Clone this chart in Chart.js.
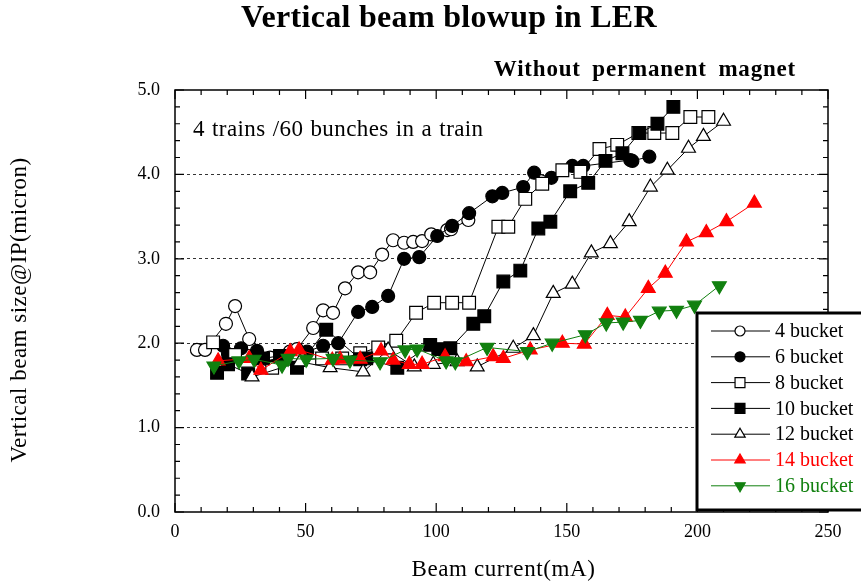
<!DOCTYPE html>
<html>
<head>
<meta charset="utf-8">
<title>Vertical beam blowup in LER</title>
<script src="https://cdn.jsdelivr.net/npm/chart.js@4.4.1/dist/chart.umd.min.js"></script>
<style>
    html, body { margin: 0; padding: 0; background: #fff; }
    #wrap { width: 861px; height: 584px; }
</style>
</head>
<body>
<div id="wrap"><canvas id="chart"></canvas></div>
<script>
// Series: beam current (mA) and vertical beam size (micron)
const seriesNames = ['4 bucket', '6 bucket', '8 bucket', '10 bucket', '12 bucket', '14 bucket', '16 bucket'];

const current4 = [8.4, 11.5, 19.5, 23.0, 28.4, 36.4, 44.0, 46.7, 52.9, 56.7, 60.5, 65.1, 70.1, 74.7, 79.3, 83.5, 87.7, 91.2, 94.6, 98.1, 104.2, 105.7, 112.3];
const size4 = [1.92, 1.92, 2.23, 2.44, 2.05, 1.83, 1.90, 1.93, 2.18, 2.39, 2.36, 2.65, 2.84, 2.84, 3.05, 3.22, 3.19, 3.20, 3.21, 3.29, 3.34, 3.35, 3.46];

const current6 = [18.4, 20.3, 25.3, 31.4, 37.5, 50.6, 56.7, 62.5, 70.1, 75.5, 81.6, 87.7, 93.5, 100.4, 106.1, 112.6, 121.5, 125.3, 133.3, 137.5, 144.1, 152.1, 156.3, 174.3, 175.1, 181.6];
const size6 = [1.97, 1.87, 1.94, 1.91, 1.73, 1.90, 1.97, 2.00, 2.37, 2.43, 2.56, 3.00, 3.02, 3.27, 3.39, 3.54, 3.74, 3.78, 3.85, 4.02, 3.96, 4.10, 4.10, 4.17, 4.16, 4.21];

const current8 = [14.6, 23.0, 37.2, 47.1, 56.3, 64.0, 70.9, 77.8, 84.7, 92.3, 99.2, 106.1, 112.6, 123.8, 127.6, 134.1, 140.6, 148.3, 155.2, 162.5, 169.3, 177.4, 183.5, 190.4, 197.3, 204.2];
const size8 = [2.01, 1.86, 1.71, 1.80, 1.82, 1.82, 1.88, 1.95, 2.03, 2.36, 2.48, 2.48, 2.48, 3.38, 3.38, 3.71, 3.89, 4.05, 4.03, 4.30, 4.35, 4.49, 4.49, 4.49, 4.68, 4.68];

const current10 = [16.1, 20.3, 28.0, 33.7, 40.2, 46.7, 57.9, 70.9, 73.2, 85.1, 97.7, 100.8, 105.4, 114.2, 118.4, 125.7, 132.2, 139.1, 143.7, 151.3, 158.2, 164.8, 171.3, 177.8, 184.7, 190.8];
const size10 = [1.65, 1.75, 1.64, 1.82, 1.85, 1.71, 2.16, 1.81, 1.82, 1.71, 1.98, 1.93, 1.94, 2.23, 2.32, 2.73, 2.86, 3.36, 3.44, 3.80, 3.90, 4.16, 4.25, 4.49, 4.60, 4.80];

const current12 = [29.5, 47.9, 59.4, 72.0, 81.6, 91.6, 98.9, 108.0, 115.7, 129.5, 137.2, 144.8, 152.1, 159.4, 166.7, 173.9, 182.0, 188.5, 196.6, 202.3, 210.0];
const size12 = [1.60, 1.78, 1.71, 1.66, 1.92, 1.72, 1.75, 1.78, 1.72, 1.94, 2.09, 2.59, 2.70, 3.07, 3.18, 3.44, 3.85, 4.05, 4.31, 4.45, 4.63];

const current14 = [16.5, 28.4, 32.9, 44.1, 47.5, 60.2, 63.2, 70.9, 78.9, 83.5, 89.7, 94.6, 103.4, 111.5, 121.8, 125.7, 136.0, 148.3, 156.7, 165.5, 172.4, 181.2, 187.7, 195.8, 203.4, 211.1, 221.8];
const size14 = [1.79, 1.82, 1.68, 1.90, 1.92, 1.80, 1.81, 1.81, 1.91, 1.80, 1.75, 1.75, 1.84, 1.78, 1.84, 1.82, 1.92, 2.00, 1.99, 2.33, 2.31, 2.65, 2.83, 3.20, 3.31, 3.44, 3.66];

const current16 = [14.9, 24.5, 30.3, 41.0, 43.3, 50.2, 60.5, 67.0, 78.5, 88.1, 92.7, 103.8, 107.3, 119.5, 134.9, 144.4, 157.1, 165.1, 171.6, 178.2, 185.4, 192.0, 198.9, 208.4];
const size16 = [1.73, 1.79, 1.81, 1.74, 1.82, 1.81, 1.82, 1.80, 1.78, 1.92, 1.93, 1.79, 1.78, 1.95, 1.90, 2.00, 2.10, 2.24, 2.25, 2.27, 2.38, 2.39, 2.45, 2.68];

const xTicks = [0, 50, 100, 150, 200, 250];
const yTicks = [0, 1, 2, 3, 4, 5];

const SERIF = '"Liberation Serif", "DejaVu Serif", serif';
const RED = '#ff0000';
const GREEN = '#11800f';

function zip(xs, ys) {
    return xs.map((v, i) => ({ x: v, y: ys[i] }));
}

// marker look per series
const looks = [
    { color: '#000', fill: '#fff', style: 'circle', r: 6.5, rot: 0 },
    { color: '#000', fill: '#000', style: 'circle', r: 6.5, rot: 0 },
    { color: '#000', fill: '#fff', style: 'rect', r: 9, rot: 0 },
    { color: '#000', fill: '#000', style: 'rect', r: 9, rot: 0 },
    { color: '#000', fill: '#fff', style: 'triangle', r: 8, rot: 0 },
    { color: RED, fill: RED, style: 'triangle', r: 8, rot: 0 },
    { color: GREEN, fill: GREEN, style: 'triangle', r: 8, rot: 180 }
];

const allX = [current4, current6, current8, current10, current12, current14, current16];
const allY = [size4, size6, size8, size10, size12, size14, size16];

const datasets = seriesNames.map((name, i) => ({
    label: name,
    data: zip(allX[i], allY[i]),
    borderColor: looks[i].color,
    backgroundColor: looks[i].fill,
    borderWidth: 1,
    pointStyle: looks[i].style,
    pointRotation: looks[i].rot,
    pointRadius: looks[i].r,
    pointBorderWidth: 1.2,
    pointBorderColor: looks[i].color,
    pointBackgroundColor: looks[i].fill,
    showLine: true,
    tension: 0,
    order: seriesNames.length - i
}));

function spaced(ctx, text, x, y, letter, word) {
    ctx.letterSpacing = letter + 'px';
    ctx.wordSpacing = word + 'px';
    ctx.fillText(text, x, y);
    ctx.letterSpacing = '0px';
    ctx.wordSpacing = '0px';
}

// Frame with inward ticks, titles, note and the boxed legend
const decorations = {
    id: 'decorations',
    afterDraw(chart) {
        const { ctx, chartArea: a, scales: { x, y } } = chart;
        ctx.save();

        // frame
        ctx.strokeStyle = '#000';
        ctx.lineWidth = 1.5;
        ctx.strokeRect(a.left, a.top, a.right - a.left, a.bottom - a.top);

        // inward ticks
        ctx.lineWidth = 1.2;
        ctx.beginPath();
        for (let v = x.min; v <= x.max; v += 10) {
            const px = x.getPixelForValue(v);
            const len = v % 50 === 0 ? 9 : 5;
            ctx.moveTo(px, a.bottom); ctx.lineTo(px, a.bottom - len);
            ctx.moveTo(px, a.top); ctx.lineTo(px, a.top + len);
        }
        for (let i = 0; i <= 25; i++) {
            const py = y.getPixelForValue(i * 0.2);
            const len = i % 5 === 0 ? 9 : 5;
            ctx.moveTo(a.left, py); ctx.lineTo(a.left + len, py);
            ctx.moveTo(a.right, py); ctx.lineTo(a.right - len, py);
        }
        ctx.stroke();

        // titles
        ctx.fillStyle = '#000';
        ctx.textBaseline = 'middle';
        ctx.textAlign = 'center';
        ctx.font = 'bold 32px ' + SERIF;
        spaced(ctx, 'Vertical beam blowup in LER', 449, 19, 0.3, 0);
        ctx.textAlign = 'right';
        ctx.font = 'bold 23px ' + SERIF;
        spaced(ctx, 'Without permanent magnet', 796, 70, 0.8, 5);
        ctx.textAlign = 'left';
        ctx.font = '23px ' + SERIF;
        spaced(ctx, '4 trains /60 bunches in a train', 193, 130, 0.4, 1);

        // axis titles
        ctx.font = '23px ' + SERIF;
        ctx.textAlign = 'center';
        spaced(ctx, 'Beam current(mA)', (a.left + a.right) / 2 + 2, 570, 0.6, 0);
        ctx.save();
        ctx.translate(20, (a.top + a.bottom) / 2 + 9);
        ctx.rotate(-Math.PI / 2);
        spaced(ctx, 'Vertical beam size@IP(micron)', 0, 0, 0.5, 0);
        ctx.restore();

        // legend box
        const bx = 697, by = 313, bh = 197;
        ctx.fillStyle = '#fff';
        ctx.fillRect(bx, by, 200, bh);
        ctx.lineWidth = 3;
        ctx.strokeStyle = '#000';
        ctx.strokeRect(bx, by, 200, bh);

        ctx.font = '20px ' + SERIF;
        chart.data.datasets.forEach((ds, i) => {
            const ry = by + 18 + i * 25.8;
            ctx.strokeStyle = ds.borderColor;
            ctx.lineWidth = 1;
            ctx.beginPath();
            ctx.moveTo(711, ry); ctx.lineTo(770, ry);
            ctx.stroke();
            ctx.fillStyle = ds.pointBackgroundColor;
            ctx.strokeStyle = ds.pointBorderColor;
            ctx.lineWidth = 1.2;
            const r = ds.pointStyle === 'rect' ? 7 : (ds.pointStyle === 'circle' ? 5 : 6);
            Chart.helpers.drawPoint(ctx, { pointStyle: ds.pointStyle, rotation: ds.pointRotation, radius: r, borderWidth: 1.2 }, 740, ry);
            ctx.fillStyle = ds.borderColor;
            ctx.textAlign = 'left';
            ctx.fillText(ds.label, 775, ry + 1);
        });

        ctx.restore();
    }
};

new Chart(document.getElementById('chart'), {
    type: 'scatter',
    data: { datasets: datasets },
    options: {
        responsive: true,
        maintainAspectRatio: false,
        devicePixelRatio: 1,
        animation: false,
        layout: { padding: { left: 0, right: 33, top: 90, bottom: 0 } },
        plugins: {
            legend: { display: false },
            tooltip: { enabled: false },
            title: { display: false }
        },
        scales: {
            x: {
                type: 'linear',
                min: 0,
                max: 250,
                afterBuildTicks: s => { s.ticks = xTicks.map(v => ({ value: v })); },
                afterFit: s => { s.height = 72; },
                grid: { drawOnChartArea: false, drawTicks: false },
                border: { display: false },
                ticks: { padding: 9, color: '#000', font: { family: SERIF, size: 18 } }
            },
            y: {
                type: 'linear',
                min: 0,
                max: 5,
                afterBuildTicks: s => { s.ticks = yTicks.map(v => ({ value: v })); },
                afterFit: s => { s.width = 175; },
                grid: {
                    drawTicks: false,
                    color: c => (c.tick && c.tick.value > 0 && c.tick.value < 5) ? '#000' : 'rgba(0,0,0,0)',
                    lineWidth: 0.8
                },
                border: { display: false, dash: [3, 3] },
                ticks: {
                    padding: 15,
                    color: '#000',
                    font: { family: SERIF, size: 18 },
                    callback: v => v.toFixed(1)
                }
            }
        }
    },
    plugins: [decorations]
});
</script>
</body>
</html>
